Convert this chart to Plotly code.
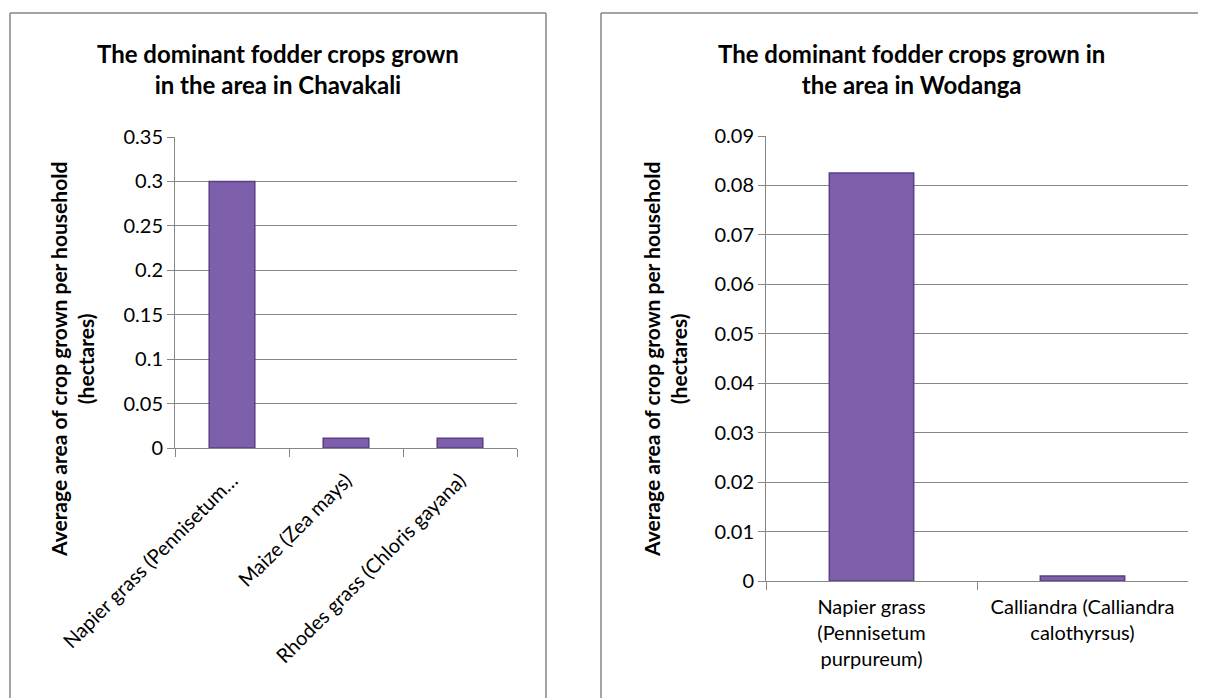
import plotly.graph_objects as go

# Data
chav_categories = ["Napier grass (Pennisetum…", "Maize (Zea mays)", "Rhodes grass (Chloris gayana)"]
chav_values = [0.30, 0.011, 0.011]
wod_categories = ["Napier grass<br>(Pennisetum<br>purpureum)", "Calliandra (Calliandra<br>calothyrsus)"]
wod_values = [0.0825, 0.001]
chav_ticks = [0, 0.05, 0.1, 0.15, 0.2, 0.25, 0.3, 0.35]
chav_ticklabels = ["0", "0.05", "0.1", "0.15", "0.2", "0.25", "0.3", "0.35"]
wod_ticks = [0, 0.01, 0.02, 0.03, 0.04, 0.05, 0.06, 0.07, 0.08, 0.09]
wod_ticklabels = ["0", "0.01", "0.02", "0.03", "0.04", "0.05", "0.06", "0.07", "0.08", "0.09"]

# page body has an 8px margin, so the figure is sized to fit the window
OFF = 8
W, H = 1206 - OFF, 698 - OFF
FONT = "Lato"
GRID = "#868686"
BAR = "#7e5fab"
BAR_LINE = "#5a3f86"

def px(v):
    return (v - OFF) / W

def py(v):
    return (H - (v - OFF)) / H

fig = go.Figure()
fig.add_trace(go.Bar(x=chav_categories, y=chav_values, xaxis="x", yaxis="y",
                     marker=dict(color=BAR, line=dict(color=BAR_LINE, width=1.5)),
                     showlegend=False))
fig.add_trace(go.Bar(x=wod_categories, y=wod_values, xaxis="x2", yaxis="y2",
                     marker=dict(color=BAR, line=dict(color=BAR_LINE, width=1.5)),
                     showlegend=False))

common_x = dict(type="category", showgrid=False, showline=True, linecolor=GRID, linewidth=1,
                ticks="outside", tickson="boundaries", ticklen=8, tickcolor=GRID, automargin=False,
                tickfont=dict(family=FONT, size=20, color="#000000"), fixedrange=True)
common_y = dict(showgrid=True, gridcolor=GRID, gridwidth=1, showline=True, linecolor=GRID,
                linewidth=1, ticks="outside", ticklen=7, tickcolor=GRID, zeroline=False, automargin=False,
                tickfont=dict(family=FONT, size=20, color="#000000"), fixedrange=True)

fig.update_layout(
    template="none",
    width=W, height=H,
    margin=dict(l=0, r=0, t=0, b=0, pad=0, autoexpand=False),
    paper_bgcolor="white", plot_bgcolor="white",
    bargap=0.6,
    showlegend=False,
    xaxis=dict(domain=[px(175), px(517)], anchor="y", tickangle=-45, ticklabelstandoff=12, **common_x),
    yaxis=dict(domain=[py(448), py(137)], anchor="x", range=[0, 0.35],
               tickvals=chav_ticks, ticktext=chav_ticklabels, **common_y),
    xaxis2=dict(domain=[px(766), px(1188)], anchor="y2", tickangle=0, ticklabelstandoff=8, **common_x),
    yaxis2=dict(domain=[py(581), py(136)], anchor="x2", range=[0, 0.09],
                tickvals=wod_ticks, ticktext=wod_ticklabels, **common_y),
)

# Panel borders (open at the bottom, as in the reference)
border = dict(color=GRID, width=1.5)
for (x0, y0, x1, y1) in [(10, 13, 10, 698), (10, 13, 546, 13), (546, 13, 546, 698),
                         (601, 13, 601, 698), (601, 13, 1206, 13)]:
    fig.add_shape(type="line", xref="paper", yref="paper",
                  x0=px(x0), x1=min(px(x1), 1), y0=max(py(y0), 0), y1=max(py(y1), 0), line=border)

# Titles
title_font = dict(family=FONT, size=24, color="#000000")
fig.add_annotation(xref="paper", yref="paper", x=px(278), y=py(69), xanchor="center", yanchor="middle",
                   showarrow=False, text="<b>The dominant fodder crops grown<br>in the area in Chavakali</b>",
                   font=title_font)
fig.add_annotation(xref="paper", yref="paper", x=px(911), y=py(69), xanchor="center", yanchor="middle",
                   showarrow=False, text="<b>The dominant fodder crops grown in<br>the area in Wodanga</b>",
                   font=title_font)

# Y axis titles
ytitle_font = dict(family=FONT, size=21, color="#000000")
ytitle = "<b>Average area of crop grown per household<br>(hectares)</b>"
fig.add_annotation(xref="paper", yref="paper", x=px(72), y=py(360), xanchor="center", yanchor="middle",
                   showarrow=False, text=ytitle, textangle=-90, font=ytitle_font)
fig.add_annotation(xref="paper", yref="paper", x=px(665), y=py(360), xanchor="center", yanchor="middle",
                   showarrow=False, text=ytitle, textangle=-90, font=ytitle_font)

fig.write_html("out.html")
